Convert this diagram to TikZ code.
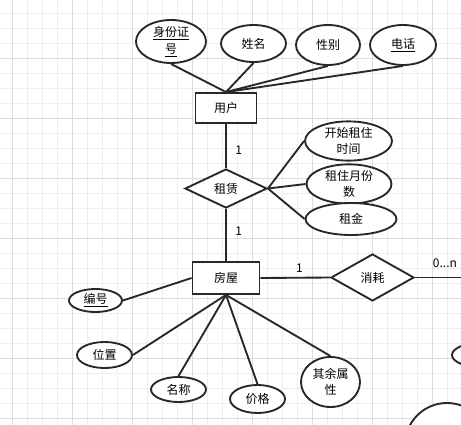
\documentclass[tikz,border=0pt]{standalone}
\usepackage{fontspec}
\usetikzlibrary{shapes.geometric,positioning}
\newfontfamily\cjk{Noto Sans CJK SC}
\definecolor{ink}{RGB}{40,40,40}
\definecolor{gridminor}{RGB}{238,238,238}
\definecolor{gridmajor}{RGB}{220,220,220}

\begin{document}
\begin{tikzpicture}[x=0.75pt,y=-0.75pt,
  every node/.style={font=\cjk\fontsize{9}{12.5}\selectfont,text=black},
  entity/.style={draw=ink,line width=1.4pt,rectangle,inner sep=0pt},
  attr/.style={draw=ink,line width=1.4pt,ellipse,inner sep=0pt,align=center},
  rel/.style={draw=ink,line width=1.4pt,diamond,inner sep=0pt},
  link/.style={draw=ink,line width=1.4pt},
  gridline/.style={draw=gridminor,line width=0.75pt},
  gridbold/.style={draw=gridmajor,line width=0.75pt}]
\useasboundingbox (0,0) rectangle (461,425);
\clip (0,0) rectangle (461,425);
\fill[white] (0,0) rectangle (461,425);
\foreach \gx in {12,27,...,457} \draw[gridline] (\gx,0) -- (\gx,425);
\foreach \gy in {13,28,...,418} \draw[gridline] (0,\gy) -- (461,\gy);
\foreach \gx in {12,72,...,432} \draw[gridbold] (\gx,0) -- (\gx,425);
\foreach \gy in {58,118,...,418} \draw[gridbold] (0,\gy) -- (461,\gy);

\node[entity,minimum width=45.75pt,minimum height=22.5pt,fill=white] (user) at (226,108) {用户};
\node[attr,minimum width=52.5pt,minimum height=27.75pt,fill=white] (idno) at (171,41.5) {\underline{身份证}\\\underline{号}};
\node[attr,minimum width=48.75pt,minimum height=27.75pt,fill=white] (uname) at (253.5,43.5) {姓名};
\node[attr,minimum width=48pt,minimum height=30pt,fill=white] (sex) at (328,45) {性别};
\node[attr,minimum width=49.5pt,minimum height=30pt,fill=white] (phone) at (403,45) {\underline{电话}};

\node[rel,minimum width=61.5pt,minimum height=29.25pt,fill=white] (rent) at (226,188.5) {租赁};
\node[attr,minimum width=65.25pt,minimum height=24.75pt,fill=white] (start) at (348.5,141) {开始租住\\时间};
\node[attr,minimum width=63.75pt,minimum height=26.25pt,fill=white] (months) at (349,184) {租住月份\\数};
\node[attr,minimum width=68.25pt,minimum height=24pt,fill=white] (fee) at (351,219) {租金};

\node[entity,minimum width=50.25pt,minimum height=24pt,fill=white] (house) at (226,278) {房屋};
\node[rel,minimum width=62.25pt,minimum height=35.25pt,fill=white] (use) at (372.5,277.5) {消耗};
\coordinate (useend) at (470,277.5);
\node[attr,minimum width=39.75pt,minimum height=17.25pt,fill=white] (hid) at (95.5,300.5) {\underline{编号}};
\node[attr,minimum width=41.25pt,minimum height=19.5pt,fill=white] (loc) at (104.5,355) {位置};
\node[attr,minimum width=41.25pt,minimum height=18.75pt,fill=white] (hname) at (178.5,389.5) {名称};
\node[attr,minimum width=41.25pt,minimum height=21pt,fill=white] (price) at (257.5,399) {价格};
\node[attr,minimum width=44.25pt,minimum height=37.5pt,fill=white] (other) at (330.5,382) {其余属\\性};

\node[attr,minimum width=42pt,minimum height=18pt,fill=white] (moreattr) at (480,355) {};
\node[draw=ink,line width=1.4pt,circle,minimum size=63pt,inner sep=0pt,fill=white] (moreent) at (447,445) {};

\draw[link] (idno.south) -- (user.north);
\draw[link] (uname.south) -- (user.north);
\draw[link] (sex.south) -- (user.north);
\draw[link] (phone.south) -- (user.north);
\draw[link] (user.south) -- node[right=3pt,pos=0.6] {1} (rent.north);
\draw[link] (rent.east) -- (start.west);
\draw[link] (rent.east) -- (months.west);
\draw[link] (rent.east) -- (fee.west);
\draw[link] (rent.south) -- node[right=3pt,pos=0.42] {1} (house.north);
\draw[link] (house.east) -- node[above,pos=0.56] {1} (use.west);
\draw[link] (use.east) -- node[above=3pt,pos=0.545] {0...n} (useend);
\draw[link] (hid.east) -- (house.west);
\draw[link] (loc.east) -- (house.south);
\draw[link] (hname.north) -- (house.south);
\draw[link] (price.north) -- (house.south);
\draw[link] (other.north) -- (house.south);
\end{tikzpicture}
\end{document}
